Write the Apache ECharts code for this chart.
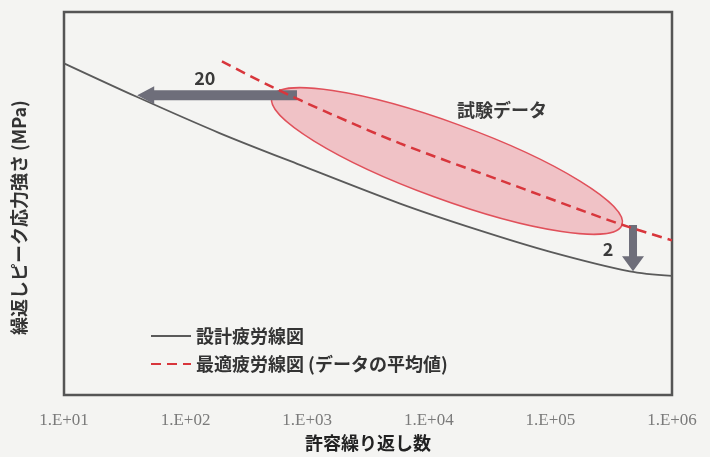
<!DOCTYPE html>
<html>
<head>
<meta charset="utf-8">
<script src="https://cdn.jsdelivr.net/npm/echarts@6/dist/echarts.min.js"></script>
<style>
  html, body { margin: 0; padding: 0; background: #f4f4f2; }
  #chart { width: 710px; height: 457px; }
</style>
</head>
<body>
<div id="chart"></div>
<script>
const xTickLabels = ["1.E+01", "1.E+02", "1.E+03", "1.E+04", "1.E+05", "1.E+06"];

// 設計疲労線図
const designN = [10, 40, 190, 870, 5800, 25000, 100000, 450000, 1000000];
const designS = [86.6, 77.8, 68.4, 60.1, 50.0, 43.2, 37.4, 32.3, 31.1];

// 最適疲労線図 (データの平均値)
const meanN = [199, 524, 1540, 5800, 38500, 353000, 1000000];
const meanS = [87.1, 80.3, 73.5, 65.7, 56.1, 44.9, 40.4];

// 試験データ (楕円の両端)
const testFrom = [514, 77.8];
const testTo = [388000, 44.4];

// 矢印 20 / 2
const arrowFrom = [[824, 78.3], [478000, 44.4]];
const arrowTo = [[40, 78.3], [478000, 32.3]];

// 注記
const noteN = [144, 298000, 40000];
const noteS = [82.8, 38.1, 74.5];
const noteText = ["20", "2", "試験データ"];

const jp = "'Noto Sans CJK JP', sans-serif";
const arrowShape = [
  { sw: 5, hw: 9, hl: 17 },
  { sw: 4, hw: 11, hl: 15 }
];

const chart = echarts.init(document.getElementById("chart"));

chart.setOption({
  backgroundColor: "#f4f4f2",
  animation: false,
  grid: {
    left: 64, right: 38, top: 12, bottom: 49,
    show: true, borderColor: "#555", borderWidth: 2.5
  },
  legend: {
    orient: "vertical",
    left: 145, top: 322,
    itemWidth: 40, itemHeight: 14, itemGap: 10,
    itemStyle: { opacity: 0 },
    data: ["設計疲労線図", "最適疲労線図 (データの平均値)"],
    textStyle: { fontSize: 18, fontWeight: "bold", color: "#333", fontFamily: jp }
  },
  xAxis: {
    type: "log", logBase: 10, min: 10, max: 1000000,
    axisLine: { show: false }, axisTick: { show: false },
    splitLine: { show: false }, minorTick: { show: false },
    axisLabel: {
      margin: 17, fontSize: 17, color: "#7a7a7a", fontFamily: "'Liberation Serif', serif",
      formatter: (v) => xTickLabels[Math.round(Math.log10(v)) - 1] || ""
    },
    name: "許容繰り返し数", nameLocation: "middle", nameGap: 31,
    nameTextStyle: { fontSize: 18, fontWeight: "bold", color: "#222", fontFamily: jp }
  },
  yAxis: {
    type: "value", min: 0, max: 100,
    axisLine: { show: false }, axisTick: { show: false },
    splitLine: { show: false }, axisLabel: { show: false },
    name: "繰返しピーク応力強さ (MPa)", nameLocation: "middle", nameGap: 36,
    nameTextStyle: {
      fontSize: 18, fontWeight: "bold", color: "#333", fontFamily: jp,
      padding: [0, 28, 0, 0]
    }
  },
  series: [
    {
      type: "custom",
      z: 1,
      data: [[testFrom[0], testFrom[1], testTo[0], testTo[1]]],
      encode: { x: [0, 2], y: [1, 3] },
      renderItem(params, api) {
        const p1 = api.coord([api.value(0), api.value(1)]);
        const p2 = api.coord([api.value(2), api.value(3)]);
        const dx = p2[0] - p1[0], dy = p2[1] - p1[1];
        return {
          type: "ellipse",
          x: (p1[0] + p2[0]) / 2, y: (p1[1] + p2[1]) / 2,
          rotation: -Math.atan2(dy, dx),
          shape: { cx: 0, cy: 0, rx: Math.hypot(dx, dy) / 2, ry: 38 },
          style: { fill: "rgba(236,134,144,0.45)", stroke: "#e0505a", lineWidth: 1.5 }
        };
      }
    },
    {
      name: "設計疲労線図",
      type: "line", z: 2,
      data: designN.map((n, i) => [n, designS[i]]),
      symbol: "none", smooth: 0.3,
      lineStyle: { color: "#5a5a5a", width: 1.8 },
      itemStyle: { color: "#5a5a5a" }
    },
    {
      type: "custom", z: 3,
      data: arrowFrom.map((f, i) => [f[0], f[1], arrowTo[i][0], arrowTo[i][1]]),
      encode: { x: [0, 2], y: [1, 3] },
      renderItem(params, api) {
        const p1 = api.coord([api.value(0), api.value(1)]);
        const p2 = api.coord([api.value(2), api.value(3)]);
        const s = arrowShape[params.dataIndex];
        const len = Math.hypot(p2[0] - p1[0], p2[1] - p1[1]);
        const ux = (p2[0] - p1[0]) / len, uy = (p2[1] - p1[1]) / len;
        const nx = -uy, ny = ux;
        const b = [p2[0] - ux * s.hl, p2[1] - uy * s.hl];
        return {
          type: "polygon",
          shape: {
            points: [
              [p1[0] + nx * s.sw, p1[1] + ny * s.sw],
              [b[0] + nx * s.sw, b[1] + ny * s.sw],
              [b[0] + nx * s.hw, b[1] + ny * s.hw],
              p2,
              [b[0] - nx * s.hw, b[1] - ny * s.hw],
              [b[0] - nx * s.sw, b[1] - ny * s.sw],
              [p1[0] - nx * s.sw, p1[1] - ny * s.sw]
            ]
          },
          style: { fill: "#6e6e7a" }
        };
      }
    },
    {
      name: "最適疲労線図 (データの平均値)",
      type: "line", z: 4,
      data: meanN.map((n, i) => [n, meanS[i]]),
      symbol: "none", smooth: 0.3,
      lineStyle: { color: "#d8363c", width: 2.5, type: [10, 6] },
      itemStyle: { color: "#d8363c" }
    },
    {
      type: "custom", z: 5,
      data: noteN.map((n, i) => [n, noteS[i]]),
      renderItem(params, api) {
        const p = api.coord([api.value(0), api.value(1)]);
        const t = noteText[params.dataIndex];
        return {
          type: "text",
          x: p[0], y: p[1],
          style: {
            text: t, align: "center", verticalAlign: "middle",
            fontSize: 18, fontWeight: "bold", fill: "#3a3a3a", fontFamily: jp
          }
        };
      }
    }
  ]
});
</script>
</body>
</html>
